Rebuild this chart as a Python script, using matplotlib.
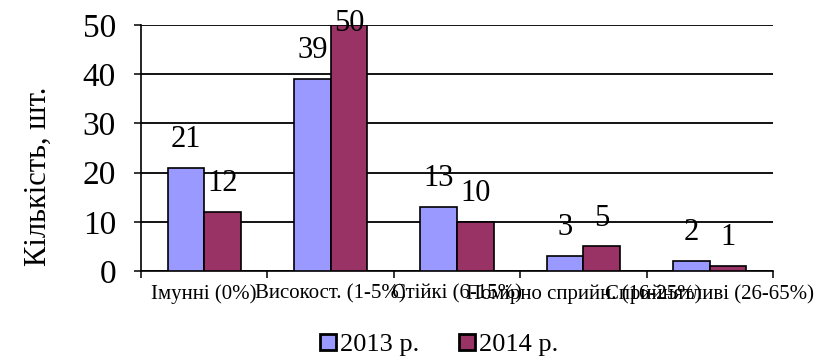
import matplotlib
matplotlib.use("Agg")
import matplotlib.pyplot as plt
import numpy as np

plt.rcParams['font.family'] = ['Liberation Serif', 'DejaVu Serif']

categories = ["Імунні (0%)", "Високост. (1-5%)", "Стійкі (6-15%)",
              "Помірно сприйн. (16-25%)", "Сприйнятливі (26-65%)"]
series_names = ["2013 р.", "2014 р."]
values_2013 = [21, 39, 13, 3, 2]
values_2014 = [12, 50, 10, 5, 1]
y_ticks = [0, 10, 20, 30, 40, 50]

colors = ["#9999FF", "#993366"]
W, H = 819, 362
fig = plt.figure(figsize=(W / 100, H / 100), dpi=100)
ax = fig.add_axes([141 / W, 1 - 271 / H, (773 - 141) / W, (271 - 25) / H])

x = np.arange(len(categories))
bw = 0.29
for i, (vals, name) in enumerate([(values_2013, series_names[0]), (values_2014, series_names[1])]):
    pos = x + (i - 0.5) * bw
    ax.bar(pos, vals, width=bw, color=colors[i], edgecolor="black", linewidth=1.2,
           label=name, zorder=3)
    for px, v in zip(pos, vals):
        if v >= 48:
            # label would leave the plot area: keep it pinned at the top edge
            ax.annotate(str(v), (px, 50), xytext=(0, 1), textcoords="offset points",
                        ha="center", va="center", fontsize=22, zorder=5)
        else:
            ax.annotate(str(v), (px, v), xytext=(0, 10), textcoords="offset points",
                        ha="center", va="bottom", fontsize=22, zorder=5)

ax.set_xlim(-0.5, len(categories) - 0.5)
ax.set_ylim(0, 50)
ax.set_yticks(y_ticks)
ax.set_yticklabels([str(t) for t in y_ticks], fontsize=24)
ax.yaxis.grid(True, color="black", linewidth=1.3, zorder=0)
ax.set_axisbelow(True)

ax.set_xticks(x)
ax.set_xticklabels(categories, fontsize=15)
ax.set_xticks(np.arange(len(categories) + 1) - 0.5, minor=True)
ax.tick_params(axis="x", which="major", length=0, pad=9.5)
ax.tick_params(axis="x", which="minor", length=5, width=1.1, direction="out")
ax.tick_params(axis="y", length=5, width=1.1, direction="out", pad=13)

for s in ["top", "right"]:
    ax.spines[s].set_visible(False)
for s in ["left", "bottom"]:
    ax.spines[s].set_linewidth(1.2)

fig.text(38 / W, 1 - 176 / H, "Кількість, шт.", rotation=90, fontsize=22,
         ha="center", va="center")

leg = fig.legend(loc="center", bbox_to_anchor=(439 / W, 1 - 345 / H), ncol=2, frameon=False,
                 fontsize=19, handlelength=0.6, handleheight=0.6, handletextpad=0.15,
                 columnspacing=1.5)
for p in leg.get_patches():
    p.set_linewidth(2.0)

fig.savefig("out.png", dpi=100)
